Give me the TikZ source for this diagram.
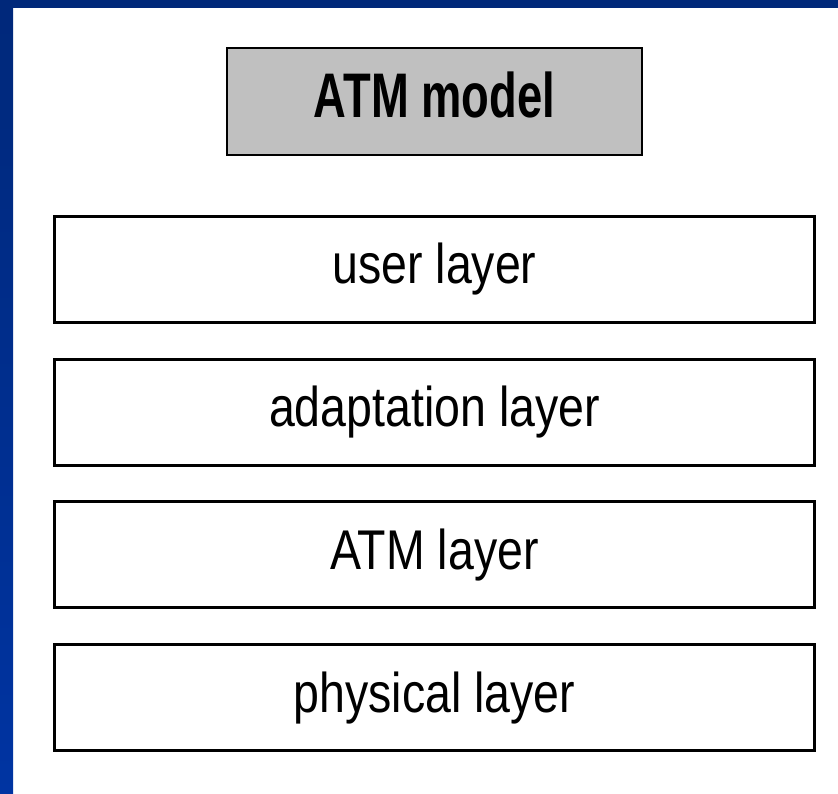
\documentclass[tikz,border=0pt]{standalone}
\usepackage{fontspec}
\usepackage{graphicx}
\setmainfont{Liberation Sans}
\newcommand{\Unit}{1pt}
\newcommand{\Rule}{3pt}
\newcommand{\Pitch}{142.7}
\definecolor{barTop}{HTML}{00287A}
\definecolor{barBottom}{HTML}{0034A2}
\definecolor{slab}{HTML}{C0C0C0}
\definecolor{ink}{HTML}{000000}
% narrow, screen-style lettering
\newcommand{\Narrow}[2]{\scalebox{#1}[1]{#2}}

\begin{document}
\begin{tikzpicture}[x=\Unit,y=-\Unit, line join=miter,
    layerbox/.style={draw=ink,line width=\Rule,fill=white,
      minimum width=760,minimum height=106,inner sep=0pt,
      font=\fontsize{56}{60}\selectfont},
    titlebox/.style={draw=ink,line width=2pt,fill=slab,
      minimum width=415,minimum height=107,inner sep=0pt}]

  % ---- page and the blue frame along the top and left ---------------------
  \useasboundingbox (0,0) rectangle (838,793);
  \fill[white] (0,0) rectangle (838,793);
  \shade[top color=barTop,bottom color=barBottom] (0,0) rectangle (13,793);
  \fill[barTop] (0,0) rectangle (838,8);

  % ---- heading ------------------------------------------------------------
  \node[titlebox] (model) at (434.5,101.5) {};
  \node[font=\fontsize{63}{66}\bfseries\selectfont,yshift=7pt] (modeltext)
    at (model) {\Narrow{0.72}{ATM model}};

  % ---- the stack of layers ------------------------------------------------
  \foreach \name/\txt [count=\i] in {user/user layer,
      adapt/adaptation layer, atm/ATM layer, phys/physical layer} {
    \pgfmathsetmacro\y{269.5+(\i-1)*\Pitch}
    \node[layerbox] (\name) at (434.5,\y) {\Narrow{0.83}{\txt}};
  }

\end{tikzpicture}
\end{document}
